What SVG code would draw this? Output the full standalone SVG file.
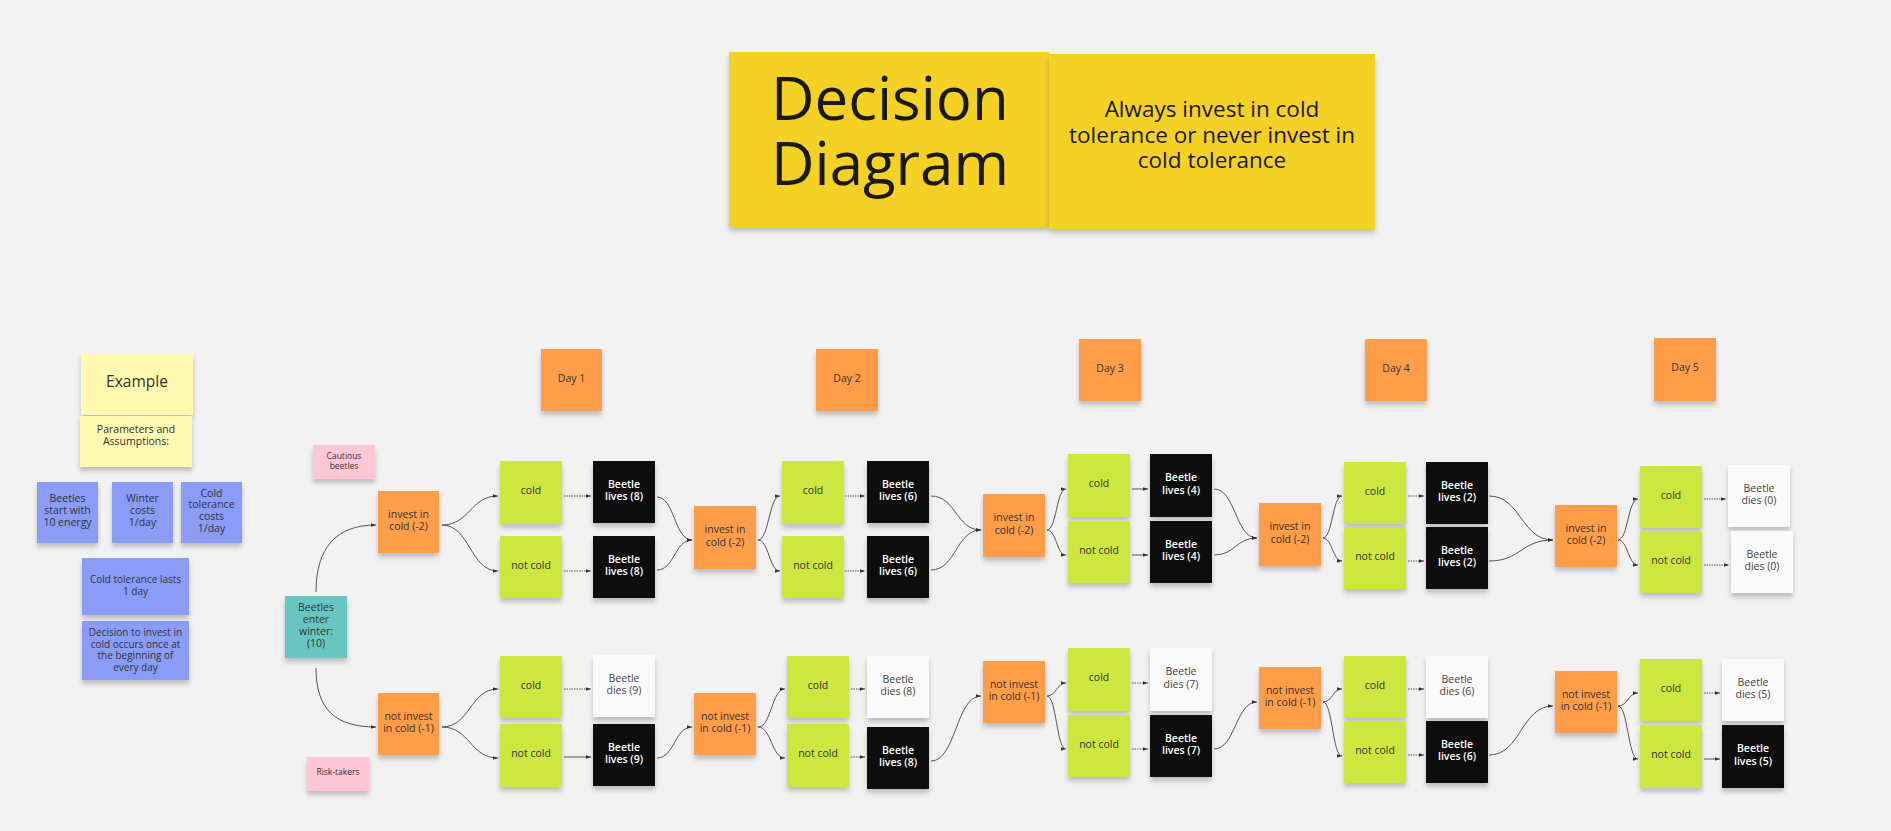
<svg xmlns="http://www.w3.org/2000/svg" width="1891" height="831" viewBox="0 0 1891 831">
<defs>
<filter id="sh" x="-20%" y="-20%" width="140%" height="150%">
<feDropShadow dx="0" dy="4" stdDeviation="2.5" flood-color="#000" flood-opacity="0.22"/>
</filter>
<marker id="a" viewBox="0 0 10 10" refX="10" refY="5" markerWidth="6" markerHeight="5" markerUnits="userSpaceOnUse" orient="auto">
<path d="M0,1.5 L10,5 L0,8.5 z" fill="#333"/>
</marker>
</defs>
<style>
.s{filter:url(#sh)}
.o{fill:#ff9d48}.g{fill:#cee741}.k{fill:#0d0d0d}.w{fill:#fafafa}.b{fill:#8a9cf8}.y{fill:#fff9b1}.ty{fill:#f5d128}.tl{fill:#67c6c0}.p{fill:#ffc6d6}
text{font-family:"Open Sans","Liberation Sans",sans-serif;text-anchor:middle;fill:#333;font-size:10.5px}
.tw{fill:#fff;font-weight:600}
.tg{fill:#444}
.c path{fill:none;stroke:#444;stroke-width:0.9;marker-end:url(#a)}
.c .d{stroke-dasharray:1.5 1}
</style>
<rect width="1891" height="831" fill="#f2f2f2"/>

<g id="title">
<rect class="s ty" x="729" y="52" width="320" height="175"/>
<rect class="s ty" x="1049" y="54" width="326" height="175"/>
<text x="771" y="120" style="font-size:60px;text-anchor:start;fill:#1a1a1a">Decision<tspan x="771" dy="65">Diagram</tspan></text>
<text x="1212" y="117" style="font-size:22.5px;fill:#1a1a1a">Always invest in cold<tspan x="1212" dy="26">tolerance or never invest in</tspan><tspan x="1212" dy="25">cold tolerance</tspan></text>
</g>

<g id="example"><rect class="s y" x="81" y="354" width="112" height="61"/><text x="137" y="387" style="font-size:15.5px">Example</text></g>
<g id="params"><rect class="s y" x="80" y="416" width="112" height="51"/><text x="136" y="432.5">Parameters and</text><text x="136" y="444.5">Assumptions:</text></g>
<g id="b1"><rect class="s b" x="37" y="482" width="61" height="61"/><text x="67.5" y="502">Beetles</text><text x="67.5" y="514">start with</text><text x="67.5" y="526">10 energy</text></g>
<g id="b2"><rect class="s b" x="112" y="482" width="61" height="61"/><text x="142.5" y="502">Winter</text><text x="142.5" y="514">costs</text><text x="142.5" y="526">1/day</text></g>
<g id="b3"><rect class="s b" x="181" y="482" width="61" height="61"/><text x="211.5" y="496.5">Cold</text><text x="211.5" y="508">tolerance</text><text x="211.5" y="520">costs</text><text x="211.5" y="532">1/day</text></g>
<g id="b4"><rect class="s b" x="82" y="558" width="107" height="57"/><text x="135.5" y="583" style="font-size:10px">Cold tolerance lasts</text><text x="135.5" y="595" style="font-size:10px">1 day</text></g>
<g id="b5"><rect class="s b" x="82" y="621" width="107" height="59"/><text x="135.5" y="636" style="font-size:10px">Decision to invest in</text><text x="135.5" y="647.5" style="font-size:10px">cold occurs once at</text><text x="135.5" y="659" style="font-size:10px">the beginning of</text><text x="135.5" y="670.5" style="font-size:10px">every day</text></g>

<g id="cautious"><rect class="s p" x="313" y="445" width="62" height="34"/><text x="344" y="459" style="font-size:8.5px">Cautious</text><text x="344" y="468.5" style="font-size:8.5px">beetles</text></g>
<g id="start"><rect class="s tl" x="285" y="596" width="62" height="62"/><text x="316" y="610.5">Beetles</text><text x="316" y="622.5">enter</text><text x="316" y="634.5">winter:</text><text x="316" y="646.5">(10)</text></g>
<g id="risk"><rect class="s p" x="307" y="757" width="62" height="34"/><text x="338" y="775" style="font-size:8.5px">Risk-takers</text></g>

<g id="day1"><rect class="s o" x="541" y="349" width="61" height="62"/><text x="571.5" y="381.5">Day 1</text></g>
<g id="day2"><rect class="s o" x="816" y="349" width="62" height="62"/><text x="847" y="381.5">Day 2</text></g>
<g id="day3"><rect class="s o" x="1079" y="339" width="62" height="62"/><text x="1110" y="371.5">Day 3</text></g>
<g id="day4"><rect class="s o" x="1365" y="339" width="62" height="62"/><text x="1396" y="371.5">Day 4</text></g>
<g id="day5"><rect class="s o" x="1654" y="338" width="62" height="63"/><text x="1685" y="371">Day 5</text></g>

<!-- row 1 -->
<g id="inv1"><rect class="s o" x="378" y="491" width="61" height="62"/><text x="408.5" y="517.5">invest in</text><text x="408.5" y="530">cold (-2)</text></g>
<g id="c1a"><rect class="s g" x="500" y="461" width="62" height="63"/><text x="531" y="494">cold</text></g>
<g id="n1a"><rect class="s g" x="500" y="536" width="62" height="62"/><text x="531" y="568.5">not cold</text></g>
<g id="l1a"><rect class="s k" x="593" y="461" width="62" height="62"/><text class="tw" x="624" y="487.5">Beetle</text><text class="tw" x="624" y="500">lives (8)</text></g>
<g id="l1b"><rect class="s k" x="593" y="536" width="62" height="62"/><text class="tw" x="624" y="562.5">Beetle</text><text class="tw" x="624" y="575">lives (8)</text></g>

<g id="inv2"><rect class="s o" x="694" y="506" width="62" height="63"/><text x="725" y="533">invest in</text><text x="725" y="545.5">cold (-2)</text></g>
<g id="c2a"><rect class="s g" x="782" y="461" width="62" height="63"/><text x="813" y="494">cold</text></g>
<g id="n2a"><rect class="s g" x="782" y="536" width="62" height="62"/><text x="813" y="568.5">not cold</text></g>
<g id="l2a"><rect class="s k" x="867" y="461" width="62" height="62"/><text class="tw" x="898" y="487.5">Beetle</text><text class="tw" x="898" y="500">lives (6)</text></g>
<g id="l2b"><rect class="s k" x="867" y="536" width="62" height="62"/><text class="tw" x="898" y="562.5">Beetle</text><text class="tw" x="898" y="575">lives (6)</text></g>

<g id="inv3"><rect class="s o" x="983" y="494" width="62" height="63"/><text x="1014" y="521">invest in</text><text x="1014" y="533.5">cold (-2)</text></g>
<g id="c3a"><rect class="s g" x="1068" y="454" width="62" height="63"/><text x="1099" y="487">cold</text></g>
<g id="n3a"><rect class="s g" x="1068" y="521" width="62" height="62"/><text x="1099" y="553.5">not cold</text></g>
<g id="l3a"><rect class="s k" x="1150" y="454" width="62" height="63"/><text class="tw" x="1181" y="481">Beetle</text><text class="tw" x="1181" y="493.5">lives (4)</text></g>
<g id="l3b"><rect class="s k" x="1150" y="521" width="62" height="62"/><text class="tw" x="1181" y="547.5">Beetle</text><text class="tw" x="1181" y="560">lives (4)</text></g>

<g id="inv4"><rect class="s o" x="1259" y="503" width="62" height="63"/><text x="1290" y="530">invest in</text><text x="1290" y="542.5">cold (-2)</text></g>
<g id="c4a"><rect class="s g" x="1344" y="462" width="62" height="62"/><text x="1375" y="494.5">cold</text></g>
<g id="n4a"><rect class="s g" x="1344" y="527" width="62" height="62"/><text x="1375" y="559.5">not cold</text></g>
<g id="l4a"><rect class="s k" x="1426" y="462" width="62" height="62"/><text class="tw" x="1457" y="488.5">Beetle</text><text class="tw" x="1457" y="501">lives (2)</text></g>
<g id="l4b"><rect class="s k" x="1426" y="527" width="62" height="62"/><text class="tw" x="1457" y="553.5">Beetle</text><text class="tw" x="1457" y="566">lives (2)</text></g>

<g id="inv5"><rect class="s o" x="1555" y="505" width="62" height="62"/><text x="1586" y="531.5">invest in</text><text x="1586" y="544">cold (-2)</text></g>
<g id="c5a"><rect class="s g" x="1640" y="466" width="62" height="62"/><text x="1671" y="498.5">cold</text></g>
<g id="n5a"><rect class="s g" x="1640" y="531" width="62" height="62"/><text x="1671" y="563.5">not cold</text></g>
<g id="d5a"><rect class="s w" x="1728" y="465" width="62" height="62"/><text class="tg" x="1759" y="491.5">Beetle</text><text class="tg" x="1759" y="504">dies (0)</text></g>
<g id="d5b"><rect class="s w" x="1731" y="531" width="62" height="62"/><text class="tg" x="1762" y="557.5">Beetle</text><text class="tg" x="1762" y="570">dies (0)</text></g>

<!-- row 2 -->
<g id="ninv1"><rect class="s o" x="378" y="693" width="61" height="62"/><text x="408.5" y="719.5">not invest</text><text x="408.5" y="732">in cold (-1)</text></g>
<g id="c1b"><rect class="s g" x="500" y="656" width="62" height="62"/><text x="531" y="688.5">cold</text></g>
<g id="n1b"><rect class="s g" x="500" y="724" width="62" height="63"/><text x="531" y="757">not cold</text></g>
<g id="d9"><rect class="s w" x="593" y="655" width="62" height="62"/><text class="tg" x="624" y="681.5">Beetle</text><text class="tg" x="624" y="694">dies (9)</text></g>
<g id="l9"><rect class="s k" x="593" y="724" width="62" height="62"/><text class="tw" x="624" y="750.5">Beetle</text><text class="tw" x="624" y="763">lives (9)</text></g>

<g id="ninv2"><rect class="s o" x="694" y="693" width="62" height="62"/><text x="725" y="719.5">not invest</text><text x="725" y="732">in cold (-1)</text></g>
<g id="c2b"><rect class="s g" x="787" y="656" width="62" height="62"/><text x="818" y="688.5">cold</text></g>
<g id="n2b"><rect class="s g" x="787" y="724" width="62" height="63"/><text x="818" y="757">not cold</text></g>
<g id="d8"><rect class="s w" x="867" y="656" width="62" height="62"/><text class="tg" x="898" y="682.5">Beetle</text><text class="tg" x="898" y="695">dies (8)</text></g>
<g id="l8"><rect class="s k" x="867" y="727" width="62" height="62"/><text class="tw" x="898" y="753.5">Beetle</text><text class="tw" x="898" y="766">lives (8)</text></g>

<g id="ninv3"><rect class="s o" x="983" y="661" width="62" height="62"/><text x="1014" y="687.5">not invest</text><text x="1014" y="700">in cold (-1)</text></g>
<g id="c3b"><rect class="s g" x="1068" y="648" width="62" height="63"/><text x="1099" y="681">cold</text></g>
<g id="n3b"><rect class="s g" x="1068" y="715" width="62" height="62"/><text x="1099" y="747.5">not cold</text></g>
<g id="d7"><rect class="s w" x="1150" y="648" width="62" height="63"/><text class="tg" x="1181" y="675">Beetle</text><text class="tg" x="1181" y="687.5">dies (7)</text></g>
<g id="l7"><rect class="s k" x="1150" y="715" width="62" height="62"/><text class="tw" x="1181" y="741.5">Beetle</text><text class="tw" x="1181" y="754">lives (7)</text></g>

<g id="ninv4"><rect class="s o" x="1259" y="667" width="62" height="62"/><text x="1290" y="693.5">not invest</text><text x="1290" y="706">in cold (-1)</text></g>
<g id="c4b"><rect class="s g" x="1344" y="656" width="62" height="62"/><text x="1375" y="688.5">cold</text></g>
<g id="n4b"><rect class="s g" x="1344" y="721" width="62" height="62"/><text x="1375" y="753.5">not cold</text></g>
<g id="d6"><rect class="s w" x="1426" y="656" width="62" height="62"/><text class="tg" x="1457" y="682.5">Beetle</text><text class="tg" x="1457" y="695">dies (6)</text></g>
<g id="l6"><rect class="s k" x="1426" y="721" width="62" height="62"/><text class="tw" x="1457" y="747.5">Beetle</text><text class="tw" x="1457" y="760">lives (6)</text></g>

<g id="ninv5"><rect class="s o" x="1555" y="671" width="62" height="62"/><text x="1586" y="697.5">not invest</text><text x="1586" y="710">in cold (-1)</text></g>
<g id="c5b"><rect class="s g" x="1640" y="659" width="62" height="62"/><text x="1671" y="691.5">cold</text></g>
<g id="n5b"><rect class="s g" x="1640" y="725" width="62" height="63"/><text x="1671" y="758">not cold</text></g>
<g id="d5"><rect class="s w" x="1722" y="659" width="62" height="62"/><text class="tg" x="1753" y="685.5">Beetle</text><text class="tg" x="1753" y="698">dies (5)</text></g>
<g id="l5"><rect class="s k" x="1722" y="725" width="62" height="63"/><text class="tw" x="1753" y="752">Beetle</text><text class="tw" x="1753" y="764.5">lives (5)</text></g>

<g id="connectors" class="c">
<path d="M316,592 C316,548 336,525 376,525"/>
<path d="M316,668 C316,710 336,727 376,727"/>
<path d="M442,525 C470,525 470,496 498,496"/>
<path d="M442,525 C470,525 470,571 498,571"/>
<path class="d" d="M564,496 H591"/>
<path class="d" d="M564,571 H591"/>
<path d="M657,497 C674.5,497 674.5,540 692,540"/>
<path d="M657,570 C674.5,570 674.5,540 692,540"/>
<path d="M758,540 C769,540 769,496 780,496"/>
<path d="M758,540 C769,540 769,571 780,571"/>
<path class="d" d="M845,496 H865"/>
<path class="d" d="M845,571 H865"/>
<path d="M931,496 C956,496 956,530 981,530"/>
<path d="M931,570 C956,570 956,530 981,530"/>
<path d="M1047,530 C1056.5,530 1056.5,489 1066,489"/>
<path d="M1047,530 C1056.5,530 1056.5,555 1066,555"/>
<path d="M1132,489 H1148"/>
<path d="M1132,555 H1148"/>
<path d="M1214,489 C1235.5,489 1235.5,538 1257,538"/>
<path d="M1214,555 C1235.5,555 1235.5,538 1257,538"/>
<path d="M1323,538 C1332.5,538 1332.5,496 1342,496"/>
<path d="M1323,538 C1332.5,538 1332.5,561 1342,561"/>
<path class="d" d="M1408,496 H1424"/>
<path class="d" d="M1408,561 H1424"/>
<path d="M1489,496 C1521,496 1521,540 1553,540"/>
<path d="M1489,561 C1521,561 1521,540 1553,540"/>
<path d="M1618,540 C1628,540 1628,499 1638,499"/>
<path d="M1618,540 C1628,540 1628,565 1638,565"/>
<path class="d" d="M1704,499 H1726"/>
<path class="d" d="M1704,565 H1729"/>
<path d="M442,727 C470,727 470,689 498,689"/>
<path d="M442,727 C470,727 470,758 498,758"/>
<path class="d" d="M564,689 H591"/>
<path d="M564,757 H591"/>
<path d="M657,758 C674.5,758 674.5,727 692,727"/>
<path d="M758,727 C771.5,727 771.5,689 785,689"/>
<path d="M758,727 C771.5,727 771.5,758 785,758"/>
<path class="d" d="M851,689 H865"/>
<path class="d" d="M851,757 H865"/>
<path d="M931,761 C956,761 956,696 981,696"/>
<path d="M1047,696 C1056.5,696 1056.5,683 1066,683"/>
<path d="M1047,696 C1056.5,696 1056.5,749 1066,749"/>
<path class="d" d="M1132,683 H1148"/>
<path class="d" d="M1132,749 H1148"/>
<path d="M1214,749 C1235.5,749 1235.5,702 1257,702"/>
<path d="M1323,702 C1332.5,702 1332.5,689 1342,689"/>
<path d="M1323,702 C1332.5,702 1332.5,756 1342,756"/>
<path class="d" d="M1408,689 H1424"/>
<path class="d" d="M1408,755 H1424"/>
<path d="M1489,755 C1521,755 1521,706 1553,706"/>
<path d="M1618,706 C1628,706 1628,693 1638,693"/>
<path d="M1618,706 C1628,706 1628,759 1638,759"/>
<path class="d" d="M1704,693 H1720"/>
<path d="M1704,759 H1720"/>
</g>
</svg>
